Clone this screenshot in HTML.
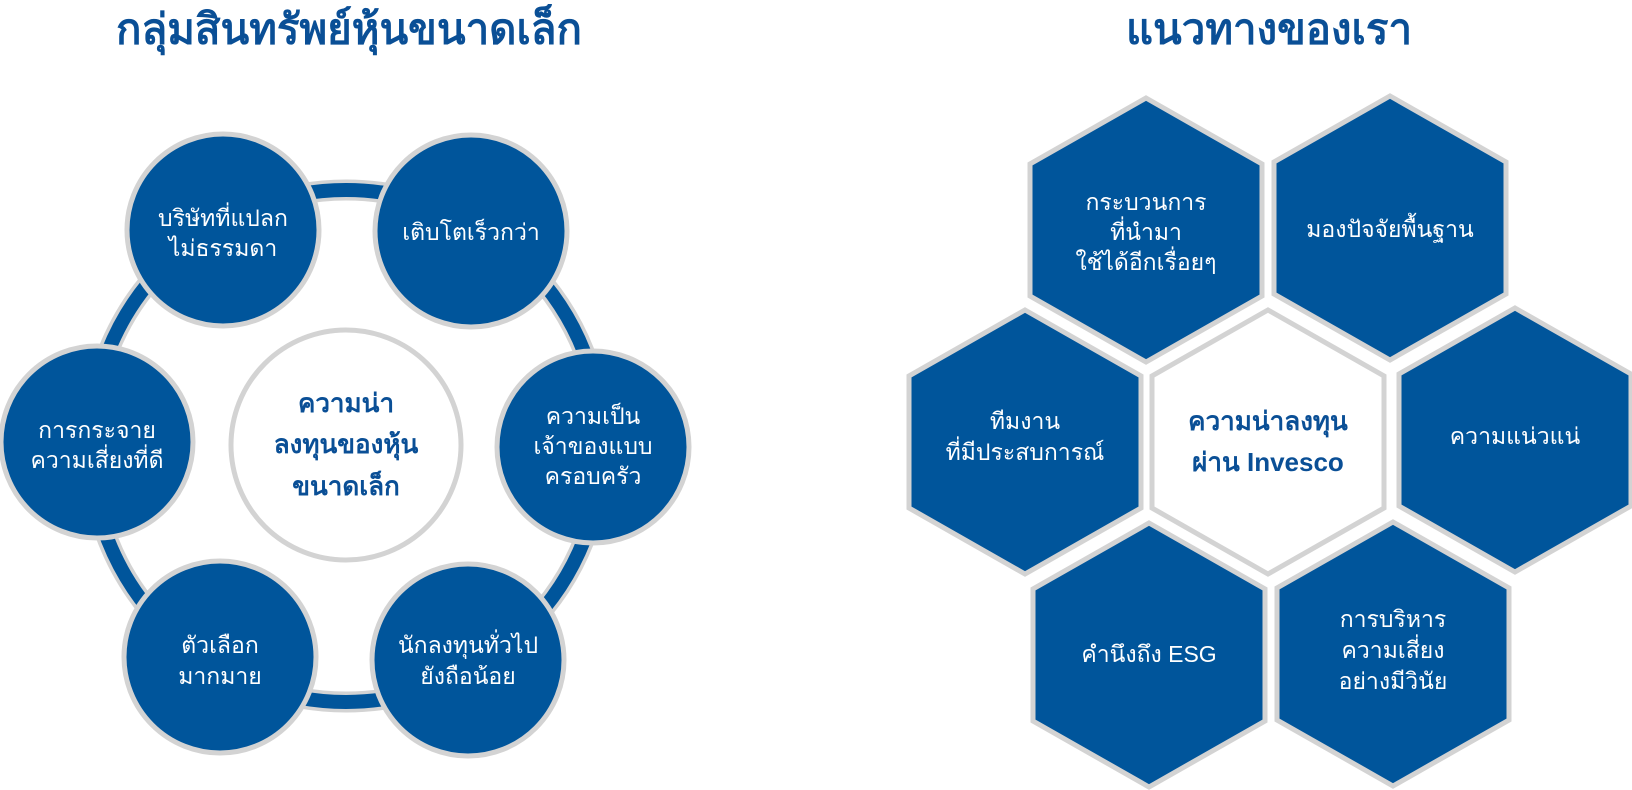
<!DOCTYPE html>
<html><head><meta charset="utf-8"><style>
html,body{margin:0;padding:0;background:#fff;width:1632px;height:790px;overflow:hidden}
svg{display:block;font-family:"Liberation Sans","DejaVu Sans",sans-serif}
text{dominant-baseline:central}
.t{fill:#fff;font-size:23px;text-anchor:middle}
.b{fill:#0a4f96;font-size:26px;font-weight:bold;text-anchor:middle}
.h{fill:#0a4f96;font-size:42px;font-weight:bold;text-anchor:middle}
</style></head><body>
<svg width="1632" height="790" viewBox="0 0 1632 790">
<text class="h" x="349" y="29">กลุ่มสินทรัพย์หุ้นขนาดเล็ก</text>
<text class="h" x="1269" y="29">แนวทางของเรา</text>

<circle cx="346" cy="446" r="256" fill="none" stroke="#d3d3d3" stroke-width="21"/>
<circle cx="346" cy="446" r="256" fill="none" stroke="#00559b" stroke-width="14"/>
<g fill="#00559b" stroke="#d3d3d3" stroke-width="5">
<circle cx="223" cy="230" r="96"/>
<circle cx="471" cy="231" r="96"/>
<circle cx="97" cy="442" r="96"/>
<circle cx="593" cy="447" r="96"/>
<circle cx="220" cy="657" r="96"/>
<circle cx="468" cy="660" r="96"/>
</g>
<circle cx="346" cy="445" r="115" fill="#fff" stroke="#d3d3d3" stroke-width="5"/>
<text class="t" x="223" y="218">บริษัทที่แปลก</text>
<text class="t" x="223" y="248">ไม่ธรรมดา</text>
<text class="t" x="471" y="232">เติบโตเร็วกว่า</text>
<text class="t" x="97" y="430">การกระจาย</text>
<text class="t" x="97" y="460">ความเสี่ยงที่ดี</text>
<text class="t" x="593" y="416">ความเป็น</text>
<text class="t" x="593" y="446">เจ้าของแบบ</text>
<text class="t" x="593" y="476">ครอบครัว</text>
<text class="t" x="220" y="645">ตัวเลือก</text>
<text class="t" x="220" y="676">มากมาย</text>
<text class="t" x="468" y="645">นักลงทุนทั่วไป</text>
<text class="t" x="468" y="676">ยังถือน้อย</text>
<text class="b" x="346" y="403">ความน่า</text>
<text class="b" x="346" y="444">ลงทุนของหุ้น</text>
<text class="b" x="346" y="486">ขนาดเล็ก</text>

<g stroke="#d3d3d3" stroke-width="5">
<polygon fill="#00559b" points="1146,98 1262,164 1262,296 1146,362 1030,296 1030,164"/>
<polygon fill="#00559b" points="1390,96 1506,162 1506,294 1390,360 1274,294 1274,162"/>
<polygon fill="#00559b" points="1025,310 1141,376 1141,508 1025,574 909,508 909,376"/>
<polygon fill="#fff" points="1268,310 1384,376 1384,508 1268,574 1152,508 1152,376"/>
<polygon fill="#00559b" points="1515,308 1631,374 1631,506 1515,572 1399,506 1399,374"/>
<polygon fill="#00559b" points="1149,523 1265,589 1265,721 1149,787 1033,721 1033,589"/>
<polygon fill="#00559b" points="1393,522 1509,588 1509,720 1393,786 1277,720 1277,588"/>
</g>
<text class="t" x="1146" y="202">กระบวนการ</text>
<text class="t" x="1146" y="232">ที่นำมา</text>
<text class="t" x="1146" y="262">ใช้ได้อีกเรื่อยๆ</text>
<text class="t" x="1390" y="229">มองปัจจัยพื้นฐาน</text>
<text class="t" x="1025" y="421">ทีมงาน</text>
<text class="t" x="1025" y="452">ที่มีประสบการณ์</text>
<text class="b" x="1268" y="421">ความน่าลงทุน</text>
<text class="b" x="1268" y="462">ผ่าน Invesco</text>
<text class="t" x="1515" y="436">ความแน่วแน่</text>
<text class="t" x="1149" y="654">คำนึงถึง ESG</text>
<text class="t" x="1393" y="619">การบริหาร</text>
<text class="t" x="1393" y="650">ความเสี่ยง</text>
<text class="t" x="1393" y="681">อย่างมีวินัย</text>
</svg>
</body></html>
